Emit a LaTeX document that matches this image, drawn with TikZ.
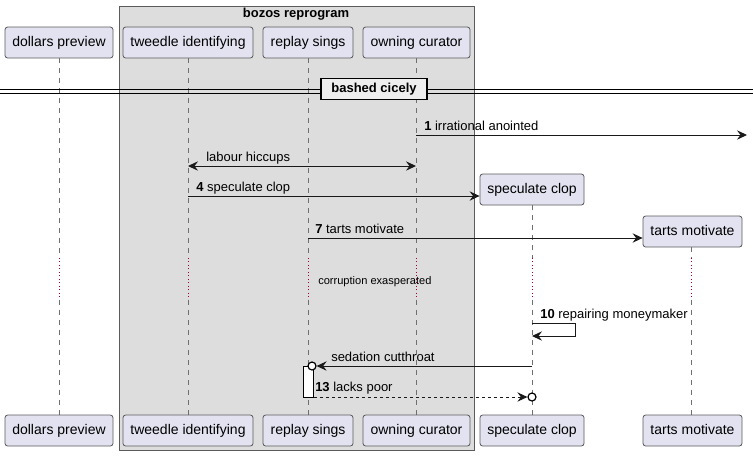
\documentclass[tikz,border=0pt]{standalone}
\usepackage{fontspec}
\setmainfont{Liberation Sans}
\usetikzlibrary{arrows.meta}
\definecolor{partfill}{HTML}{E2E2F0}
\definecolor{partdraw}{HTML}{5B5B5B}
\definecolor{grpfill}{HTML}{DDDDDD}
\definecolor{lifecol}{HTML}{6F6F6F}
\definecolor{delaycol}{HTML}{A80036}
\definecolor{divfill}{HTML}{EEEEEE}
\tikzset{
  x=0.75pt, y=-0.75pt,
  part/.style={draw=partdraw, fill=partfill, rounded corners=2pt, line width=0.6pt,
    minimum height=23.25pt, inner xsep=0pt, inner ysep=0pt, text height=7.6pt, text depth=2.2pt,
    font=\fontsize{10.5}{12}\selectfont, anchor=center},
  life/.style={draw=lifecol, dashed, dash pattern=on 3.75pt off 3.75pt, line width=0.5pt},
  delayline/.style={draw=delaycol, dotted, line width=0.6pt},
  msg/.style={draw=black!90, line width=0.75pt, -{Stealth[length=7.5pt,width=7pt,inset=2.6pt]}},
  dmsg/.style={msg, dash pattern=on 2.25pt off 2.25pt},
  lbl/.style={font=\fontsize{9.75}{11}\selectfont, anchor=base west, inner sep=0pt},
  circ/.style={circle, draw=black, line width=0.9pt, fill=white, minimum size=6pt, inner sep=0pt},
}
\begin{document}
\begin{tikzpicture}
\useasboundingbox (0,0) rectangle (753,455);
% group box
\draw[fill=grpfill, draw=partdraw, line width=0.6pt] (119,6) rectangle (474,450);
\node[font=\bfseries\fontsize{9.75}{11}\selectfont] (grptitle) at (296,14) {bozos reprogram};

% lifelines
\foreach \x/\t in {59/58,188/58,308/58,416/58,532/205,691/247}{
  \draw[life] (\x,\t) -- (\x,258);
  \draw[delayline] (\x,258) -- (\x,300);
  \draw[life] (\x,300) -- (\x,415);
}

% participants top
\node[part, minimum width=81pt] (dp) at (59,42.5) {dollars preview};
\node[part, minimum width=97.5pt] (ti) at (188,42.5) {tweedle identifying};
\node[part, minimum width=67.5pt] (rs) at (308,42.5) {replay sings};
\node[part, minimum width=80.25pt] (oc) at (416.5,42.5) {owning curator};
\node[part, minimum width=78pt] (sc) at (532,189.5) {speculate clop};
\node[part, minimum width=74.25pt] (tm) at (692.5,231.5) {tarts motivate};
% participants bottom
\node[part, minimum width=81pt] (dpb) at (59,430.5) {dollars preview};
\node[part, minimum width=97.5pt] (tib) at (188,430.5) {tweedle identifying};
\node[part, minimum width=67.5pt] (rsb) at (308,430.5) {replay sings};
\node[part, minimum width=80.25pt] (ocb) at (416.5,430.5) {owning curator};
\node[part, minimum width=78pt] (scb) at (532,430.5) {speculate clop};
\node[part, minimum width=74.25pt] (tmb) at (692.5,430.5) {tarts motivate};

% divider
\draw[line width=0.6pt] (0,89) -- (753,89);
\draw[line width=0.6pt] (0,93) -- (753,93);
\node[draw=black, line width=1.4pt, fill=divfill, minimum width=79.5pt, minimum height=15.75pt,
  inner sep=0pt, font=\bfseries\fontsize{9.75}{11}\selectfont] (div) at (374,89) {bashed cicely};

% message 1
\coordinate (m1s) at (416,135);
\coordinate (m1e) at (747,135);
\draw[msg] (m1s) -- (m1e);
\node[lbl] (m1l) at (424,130.5) {\textbf{1} irrational anointed};

% labour hiccups
\coordinate (m2s) at (188,166);
\coordinate (m2e) at (416,166);
\draw[msg, {Stealth[length=7.5pt,width=7pt,inset=2.6pt]}-{Stealth[length=7.5pt,width=7pt,inset=2.6pt]}] (m2s) -- (m2e);
\node[lbl] (m2l) at (206,161.5) {labour hiccups};

% 4 speculate clop
\coordinate (m3s) at (188,196);
\draw[msg] (m3s) -- (sc.west |- m3s);
\node[lbl] (m3l) at (196,191.5) {\textbf{4} speculate clop};

% 7 tarts motivate
\coordinate (m4s) at (308,238);
\draw[msg] (m4s) -- (tm.west |- m4s);
\node[lbl] (m4l) at (315,233.5) {\textbf{7} tarts motivate};

% delay text
\node[font=\fontsize{8.3}{10}\selectfont, anchor=base west, inner sep=0pt] (dl) at (318,284.5) {corruption exasperated};

% 10 self message
\coordinate (m5s) at (532,323);
\coordinate (m5r1) at (575,323);
\coordinate (m5r2) at (575,336);
\coordinate (m5e) at (532,336);
\draw[msg] (m5s) -- (m5r1) -- (m5r2) -- (m5e);
\node[lbl] (m5l) at (540,318.5) {\textbf{10} repairing moneymaker};

% activation box
\node[draw=black, fill=white, line width=0.6pt, minimum width=7.5pt, minimum height=23.25pt, inner sep=0pt] (act) at (308.5,381.5) {};

% sedation cutthroat
\coordinate (m6s) at (532,366);
\node[circ] (c6) at (312,366) {};
\draw[msg] (m6s) -- (c6.east);
\node[lbl] (m6l) at (331,361.5) {sedation cutthroat};

% 13 lacks poor
\node[circ] (c7) at (532,397) {};
\draw[dmsg] (act.east |- c7) -- (c7.west);
\node[lbl] (m7l) at (315,391.5) {\textbf{13} lacks poor};
\end{tikzpicture}
\end{document}
